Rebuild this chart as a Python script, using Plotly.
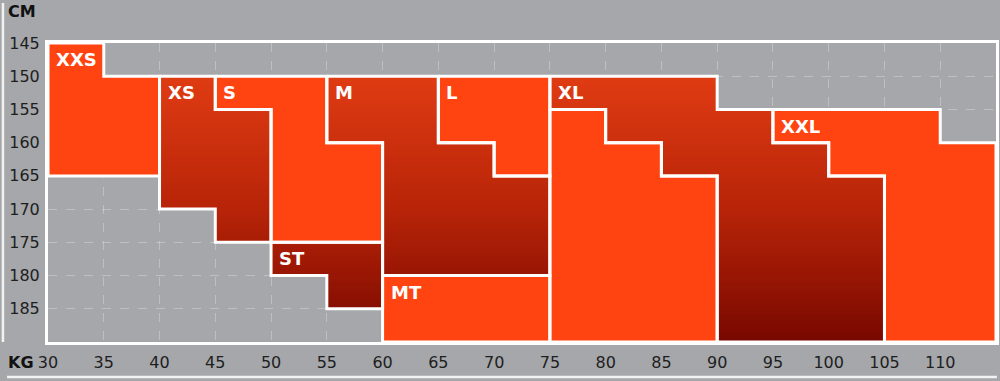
import numpy as np
import plotly.graph_objects as go

# ---------------- data ----------------
kg_ticks = [30, 35, 40, 45, 50, 55, 60, 65, 70, 75, 80, 85, 90, 95, 100, 105, 110]
cm_ticks = [145, 150, 155, 160, 165, 170, 175, 180, 185]
kg_range = [30, 115]
cm_range = [145, 190]
col_width = 5

size_names = ["XXS", "XS", "S", "ST", "M", "L", "MT", "XL", "", "XXL"]
size_cols = [
    [30, 35],
    [40, 45],
    [45, 50, 55],
    [50, 55],
    [55, 60, 65, 70],
    [65, 70],
    [60, 65, 70],
    [75, 80, 85, 90, 95, 100],
    [75, 80, 85],
    [95, 100, 105, 110],
]
size_tops = [
    [145, 150],
    [150, 155],
    [150, 150, 160],
    [175, 175],
    [150, 150, 160, 165],
    [150, 150],
    [180, 180, 180],
    [150, 150, 150, 155, 160, 165],
    [155, 160, 165],
    [155, 155, 155, 160],
]
size_bottoms = [
    [165, 165],
    [170, 175],
    [155, 175, 175],
    [180, 185],
    [160, 180, 180, 180],
    [160, 165],
    [190, 190, 190],
    [155, 160, 165, 190, 190, 190],
    [190, 190, 190],
    [160, 165, 190, 190],
]
size_dark = [False, True, False, True, True, False, False, True, False, False]

BG = "#A5A7AA"
BRIGHT = "#FF4311"
DARK_TOP = "#E43E14"
DARK_MID = "#B82408"
DARK_BOTTOM = "#780800"

# ---------------- heatmap grid ----------------
dy = 0.5
xc = np.arange(kg_range[0], kg_range[1], col_width) + col_width / 2
yc = np.arange(cm_range[0], cm_range[1], dy) + dy / 2
z = np.full((len(yc), len(xc)), np.nan)
for cols, tops, bots, dark in zip(size_cols, size_tops, size_bottoms, size_dark):
    for c, t, b in zip(cols, tops, bots):
        ci = int((c - kg_range[0]) // col_width)
        for ri, y in enumerate(yc):
            if t < y < b:
                if dark:
                    z[ri, ci] = 0.1 + 0.9 * (y - 150) / 40
                else:
                    z[ri, ci] = 0.0

colorscale = [[0, BRIGHT], [0.05, BRIGHT], [0.05, DARK_TOP],
              [0.55, DARK_MID], [1, DARK_BOTTOM]]

fig = go.Figure()
fig.add_trace(go.Heatmap(
    x=xc, y=yc, z=z, zmin=0, zmax=1, colorscale=colorscale,
    showscale=False, hoverinfo="skip", zsmooth=False,
))

# outlines
for cols, tops, bots in zip(size_cols, size_tops, size_bottoms):
    px, py = [], []
    for c, t in zip(cols, tops):
        px += [c, c + col_width]
        py += [t, t]
    for c, b in zip(reversed(cols), reversed(bots)):
        px += [c + col_width, c]
        py += [b, b]
    px.append(px[0])
    py.append(py[0])
    fig.add_trace(go.Scatter(x=px, y=py, mode="lines",
                             line=dict(color="white", width=3),
                             hoverinfo="skip", showlegend=False))

# size labels
for name, cols, tops in zip(size_names, size_cols, size_tops):
    if not name:
        continue
    fig.add_annotation(x=cols[0], y=tops[0] + 2.5, text=f"<b>{name}</b>",
                       showarrow=False, xanchor="left", yanchor="middle",
                       xshift=6, font=dict(color="white", size=18,
                                           family="DejaVu Sans"))

tick_font = dict(family="DejaVu Sans", size=16, color="#1E1E1E")
fig.update_layout(
    width=1000, height=381,
    margin=dict(l=48, r=4, t=43, b=39, autoexpand=False),
    paper_bgcolor=BG, plot_bgcolor=BG,
    showlegend=False,
    xaxis=dict(range=kg_range, tickmode="array", tickvals=kg_ticks,
               ticktext=[str(v) for v in kg_ticks], tickfont=tick_font,
               showgrid=True, gridcolor="rgba(255,255,255,0.28)",
               griddash="dash", gridwidth=1, zeroline=False,
               showline=True, linecolor="white", linewidth=3, mirror=True,
               ticks="", ticklabelstandoff=4, layer="above traces",
               automargin=False),
    yaxis=dict(range=[cm_range[1], cm_range[0]], tickmode="array",
               tickvals=cm_ticks, ticktext=[str(v) for v in cm_ticks],
               tickfont=tick_font,
               showgrid=True, gridcolor="rgba(255,255,255,0.28)",
               griddash="dash", gridwidth=1, zeroline=False,
               showline=True, linecolor="white", linewidth=3, mirror=True,
               ticks="", ticklabelstandoff=2, layer="above traces",
               automargin=False),
)

# axis titles
fig.add_annotation(xref="paper", yref="paper", x=-0.044, y=1.104,
                   text="<b>CM</b>", showarrow=False, xanchor="left",
                   yanchor="middle", font=dict(family="DejaVu Sans", size=16,
                                               color="#111"))
fig.add_annotation(xref="paper", yref="paper", x=-0.044, y=-0.067,
                   text="<b>KG</b>", showarrow=False, xanchor="left",
                   yanchor="middle", font=dict(family="DejaVu Sans", size=16,
                                               color="#111"))

# decorative frame lines
fig.add_shape(type="line", xref="paper", yref="paper",
              x0=-0.0475, x1=-0.0475, y0=0, y1=1.134,
              line=dict(color="#F2F2F2", width=2.5))
fig.add_shape(type="line", xref="paper", yref="paper",
              x0=-0.0432, x1=1.001, y0=-0.117, y1=-0.117,
              line=dict(color="#F2F2F2", width=2.5))

fig.write_html("out.html",
               config={"displayModeBar": False},
               post_script="document.body.style.margin='0';"
                           "document.body.style.overflow='hidden';")
